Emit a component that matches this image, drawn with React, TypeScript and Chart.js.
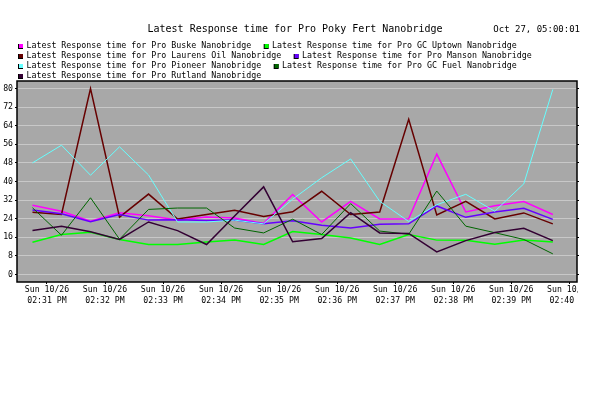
import React, { useEffect, useRef } from 'react';
import { Chart, registerables } from 'chart.js';

Chart.register(...registerables);

// ---------- data ----------
const chartTitle = 'Latest Response time for Pro Poky Fert Nanobridge';
const stampText = 'Oct 27, 05:00:01';

const seriesNames = [
  'Latest Response time for Pro Buske Nanobridge',
  'Latest Response time for Pro GC Uptown Nanobridge',
  'Latest Response time for Pro Laurens Oil Nanobridge',
  'Latest Response time for Pro Manson Nanobridge',
  'Latest Response time for Pro Pioneer Nanobridge',
  'Latest Response time for Pro GC Fuel Nanobridge',
  'Latest Response time for Pro Rutland Nanobridge',
];
const seriesColors = ['#ff00ff', '#00ff00', '#660000', '#6600ff', '#66ffff', '#006600', '#330033'];
const seriesWidths = [1.5, 1.5, 1.5, 1.5, 1, 1, 1.5];

const sampleTimes = [
  '14:30:45', '14:31:15', '14:31:45', '14:32:15', '14:32:45', '14:33:15', '14:33:45',
  '14:34:14', '14:34:44', '14:35:14', '14:35:44', '14:36:14', '14:36:44', '14:37:14',
  '14:37:43', '14:38:13', '14:38:43', '14:39:13', '14:39:43',
];

const buske = [29.8, 27.2, 22.9, 26.6, 25.3, 23.5, 24.7, 24.3, 22.0, 34.4, 22.6, 31.5, 23.9, 24.0, 51.8, 26.9, 29.6, 31.4, 25.8];
const gcUptown = [13.9, 17.2, 18.2, 15.1, 12.9, 12.9, 14.0, 14.8, 12.9, 18.5, 17.2, 15.7, 12.9, 17.2, 14.8, 14.7, 13.0, 14.8, 14.0];
const laurensOil = [26.8, 25.8, 79.9, 24.7, 34.6, 23.9, 25.8, 27.6, 25.0, 27.0, 35.8, 25.8, 26.9, 66.7, 25.6, 31.5, 23.9, 26.5, 21.8];
const manson = [27.7, 26.1, 22.7, 25.8, 23.4, 23.6, 23.2, 23.5, 21.8, 23.1, 21.2, 20.0, 21.6, 21.8, 29.5, 24.6, 26.9, 28.5, 23.7];
const pioneer = [48.0, 55.6, 42.7, 54.9, 42.8, 22.6, 22.6, 23.4, 21.8, 32.4, 41.6, 49.7, 31.5, 22.8, 30.0, 34.5, 27.2, 39.0, 79.6];
const gcFuel = [28.7, 16.9, 33.0, 15.2, 28.0, 28.6, 28.6, 20.0, 17.9, 23.8, 17.2, 30.5, 18.7, 17.3, 35.9, 20.8, 18.0, 15.1, 8.9];
const rutland = [18.9, 20.8, 18.4, 15.1, 22.6, 18.9, 12.9, 25.2, 37.7, 14.1, 15.5, 26.6, 17.9, 17.7, 9.7, 14.6, 18.1, 19.9, 14.6];

const seriesValues = [buske, gcUptown, laurensOil, manson, pioneer, gcFuel, rutland];

const tickTimes = ['14:31', '14:32', '14:33', '14:34', '14:35', '14:36', '14:37', '14:38', '14:39', '14:40'];
const tickDays = ['Sun 10/26', 'Sun 10/26', 'Sun 10/26', 'Sun 10/26', 'Sun 10/26', 'Sun 10/26', 'Sun 10/26', 'Sun 10/26', 'Sun 10/26', 'Sun 10/26'];
const tickClock = ['02:31 PM', '02:32 PM', '02:33 PM', '02:34 PM', '02:35 PM', '02:36 PM', '02:37 PM', '02:38 PM', '02:39 PM', '02:40 PM'];
const xRange = ['14:30:29', '14:40:08'];

const yTicks = [0, 8, 16, 24, 32, 40, 48, 56, 64, 72, 80];
const yMin = -3.2;
const yMax = 83.2;

// ---------- helpers ----------
const FONT = '"DejaVu Sans Mono", monospace';

function toMinutes(t: string): number {
  const parts = t.split(':').map(Number);
  const h = parts[0], m = parts[1], s = parts[2] || 0;
  return (h - 14) * 60 + m - 30 + s / 60;
}

const decorPlugin = {
  id: 'decor',
  beforeDraw(chart: any) {
    const { ctx, chartArea: a, width, height } = chart;
    ctx.save();
    ctx.fillStyle = '#ffffff';
    ctx.fillRect(0, 0, width, height);
    ctx.fillStyle = '#a8a8a8';
    ctx.fillRect(a.left, a.top, a.right - a.left, a.bottom - a.top);
    ctx.restore();
  },
  afterDatasetsDraw(chart: any) {
    const { ctx, chartArea: a } = chart;
    ctx.save();
    ctx.strokeStyle = '#000';
    ctx.lineWidth = 1.5;
    ctx.strokeRect(a.left, a.top, a.right - a.left, a.bottom - a.top);
    ctx.restore();
  },
  afterDraw(chart: any) {
    const { ctx, chartArea: a, width, height } = chart;
    ctx.save();
    // clip the last x label at the plot's right edge
    ctx.fillStyle = '#ffffff';
    ctx.fillRect(a.right + 1, a.bottom + 2, width - a.right, height - a.bottom);

    ctx.fillStyle = '#000';
    ctx.textBaseline = 'alphabetic';
    ctx.font = `10px ${FONT}`;
    ctx.textAlign = 'center';
    ctx.fillText(chartTitle, 295, 31.5);

    ctx.font = `9px ${FONT}`;
    ctx.textAlign = 'right';
    ctx.fillText(stampText, 580, 31.5);

    ctx.font = `8.3px ${FONT}`;
    ctx.textAlign = 'left';
    let x = 18;
    let row = 0;
    seriesNames.forEach((name, i) => {
      const w = 8.4 + ctx.measureText(name).width;
      if (x > 18 && x + w > 600) {
        row++;
        x = 18;
      }
      const top = 44 + row * 10;
      ctx.fillStyle = '#000';
      ctx.fillRect(x, top, 5, 5);
      ctx.fillStyle = seriesColors[i];
      ctx.fillRect(x + 1, top, 4, 4);
      ctx.fillStyle = '#000';
      ctx.fillText(name, x + 8.4, top + 4);
      x += w + 12.5;
    });
    ctx.restore();
  },
};

export default function App() {
  const canvasRef = useRef<HTMLCanvasElement | null>(null);

  useEffect(() => {
    const canvas = canvasRef.current;
    if (!canvas) return;
    const xs = sampleTimes.map(toMinutes);
    const tickMins = tickTimes.map(toMinutes);

    const datasets = seriesNames.map((name, i) => ({
      label: name,
      data: seriesValues[i].map((v, k) => ({ x: xs[k], y: v })),
      borderColor: seriesColors[i],
      backgroundColor: seriesColors[i],
      borderWidth: seriesWidths[i],
      pointRadius: 0,
      tension: 0,
      fill: false,
      order: seriesNames.length - i,
    }));

    const chart = new Chart(canvas, {
      type: 'line',
      data: { datasets },
      plugins: [decorPlugin],
      options: {
        responsive: false,
        animation: false,
        devicePixelRatio: 1,
        layout: { padding: { left: 0, right: 36, top: 81, bottom: 0 } },
        plugins: {
          legend: { display: false },
          title: { display: false },
          tooltip: { enabled: false },
        },
        scales: {
          x: {
            type: 'linear',
            min: toMinutes(xRange[0]),
            max: toMinutes(xRange[1]),
            afterBuildTicks: (s: any) => {
              s.ticks = tickMins.map((v) => ({ value: v }));
            },
            afterFit: (s: any) => {
              s.height = 111;
            },
            ticks: {
              autoSkip: false,
              maxRotation: 0,
              minRotation: 0,
              padding: 0.5,
              color: '#000',
              font: { family: FONT, size: 8.2, lineHeight: 11 / 8.2 },
              callback: (_v: any, i: number) => [tickDays[i], tickClock[i]],
            },
            grid: { drawOnChartArea: false, drawTicks: true, tickLength: 2, tickColor: '#000' },
            border: { display: false },
          },
          y: {
            type: 'linear',
            position: 'left',
            min: yMin,
            max: yMax,
            afterBuildTicks: (s: any) => {
              s.ticks = yTicks.map((v) => ({ value: v }));
            },
            afterFit: (s: any) => {
              s.width = 17;
            },
            ticks: {
              padding: 2,
              color: '#000',
              font: { family: FONT, size: 8.2 },
            },
            grid: { color: '#c8c8c8', lineWidth: 1, drawTicks: true, tickLength: 2, tickColor: '#000' },
            border: { display: false },
          },
          y2: {
            type: 'linear',
            position: 'right',
            min: yMin,
            max: yMax,
            afterBuildTicks: (s: any) => {
              s.ticks = yTicks.map((v) => ({ value: v }));
            },
            afterFit: (s: any) => {
              s.width = 3;
            },
            ticks: { display: false },
            grid: { drawOnChartArea: false, drawTicks: true, tickLength: 2, tickColor: '#000' },
            border: { display: false },
          },
        },
      } as any,
    });
    return () => chart.destroy();
  }, []);

  return (
    <div style={{ position: 'fixed', left: 0, top: 0, width: 616, height: 393, background: '#fff' }}>
      <canvas ref={canvasRef} width={616} height={393} style={{ display: 'block' }} />
    </div>
  );
}
